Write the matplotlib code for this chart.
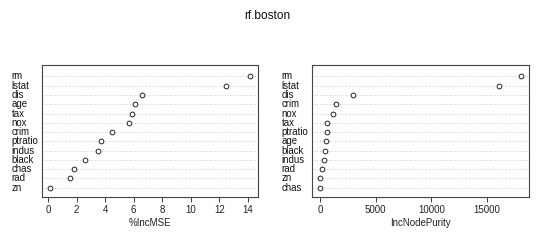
import numpy as np
import matplotlib.pyplot as plt
from matplotlib.transforms import blended_transform_factory

plt.rcParams['font.family'] = ['Liberation Sans', 'DejaVu Sans']

# %IncMSE panel (top to bottom)
mse_vars = ["rm", "lstat", "dis", "age", "tax", "nox", "crim", "ptratio",
            "indus", "black", "chas", "rad", "zn"]
mse_vals = [14.15, 12.47, 6.57, 6.06, 5.85, 5.66, 4.48, 3.71, 3.52, 2.57,
            1.82, 1.57, 0.14]

# IncNodePurity panel (top to bottom)
np_vars = ["rm", "lstat", "dis", "crim", "nox", "tax", "ptratio", "age",
           "black", "indus", "rad", "zn", "chas"]
np_vals = [18050, 16050, 2990, 1440, 1170, 660, 600, 540, 420, 360, 210,
           60, 30]

mse_ticks = [0, 2, 4, 6, 8, 10, 12, 14]
np_ticks = [0, 5000, 10000, 15000]

fig = plt.figure(figsize=(5.4, 2.42), dpi=100)
fig.text(0.495, 0.934, "rf.boston", ha='center', va='center', fontsize=8.6,
         color='#111111')

def dotpanel(rect, names, vals, ticks, xlabel, label_x):
    ax = fig.add_axes(rect)
    n = len(vals)
    y = np.arange(n, 0, -1)
    # dotted guide line for every variable
    for yy in y:
        ax.axhline(yy, color='#bdbdbd', lw=0.6, ls=(0, (1, 2)), zorder=1)
    ax.plot(vals, y, ls='none', marker='o', ms=3.4, mfc='white',
            mec='#222222', mew=0.7, zorder=3)
    lo, hi = min(vals), max(vals)
    pad = (hi - lo) * 0.04
    ax.set_xlim(lo - pad, hi + pad)
    ax.set_ylim(0.03, n + 1.22)
    ax.set_yticks([])
    ax.set_xticks(ticks)
    ax.tick_params(axis='x', labelsize=7, length=3.6, width=0.6,
                   pad=2.5, colors='#222222')
    for s in ax.spines.values():
        s.set_linewidth(0.8)
        s.set_color('#444444')
    ax.set_xlabel(xlabel, fontsize=7, labelpad=2, color='#222222')
    tr = blended_transform_factory(fig.transFigure, ax.transData)
    for name, yy in zip(names, y):
        ax.text(label_x, yy, name, transform=tr, ha='left', va='center',
                fontsize=6.9, color='#111111')
    return ax

dotpanel([0.0778, 0.187, 0.400, 0.544], mse_vars, mse_vals, mse_ticks,
         "%IncMSE", 0.0216)
dotpanel([0.578, 0.187, 0.402, 0.544], np_vars, np_vals, np_ticks,
         "IncNodePurity", 0.5216)

fig.savefig("out.png", dpi=100)
